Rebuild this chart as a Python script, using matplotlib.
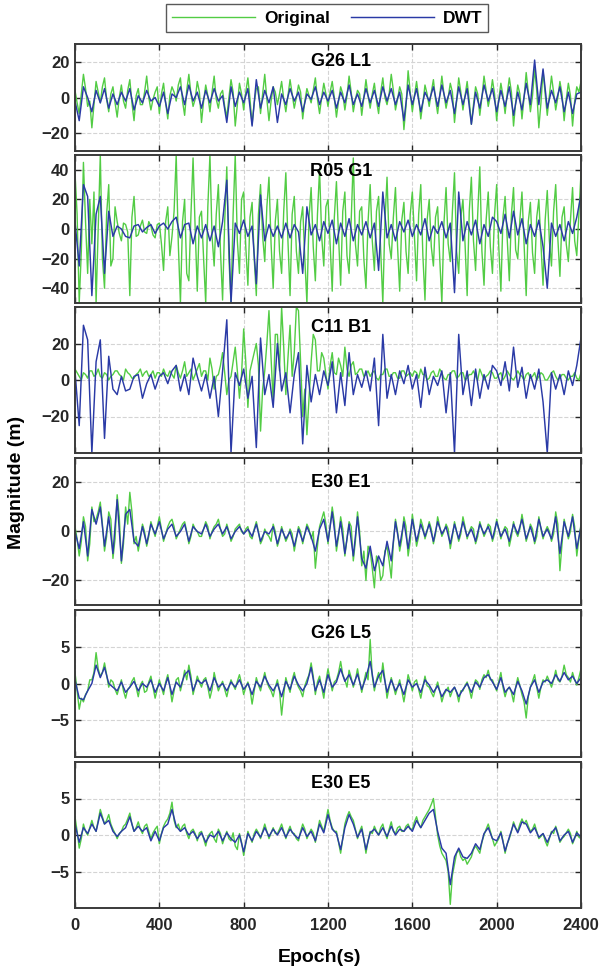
import numpy as np
import matplotlib
matplotlib.use("Agg")
import matplotlib.pyplot as plt

plt.rcParams['font.family'] = ['Liberation Sans', 'DejaVu Sans']
plt.rcParams['font.weight'] = 'bold'

# original series sampled every 10 s, DWT series every 20 s
epochs_orig = np.arange(0, 2401, 10)
epochs_dwt = np.arange(0, 2401, 20)

titles = ["G26 L1", "R05 G1", "C11 B1", "E30 E1", "G26 L5", "E30 E5"]

g26_l1_orig = [4, -3, -9, 2, 13, 5, -5, -2, -17, -4, 9, 3, -3, 6, 11, -1, -8, 2, 6, -3,
               -11, 0, 7, -2, -6, 4, 10, -3, -13, 1, 5, -4, -4, 3, 12, 0, -7, -1, 3, 6,
               -9, 2, 8, -3, -12, 1, 6, 3, -2, 7, 11, -2, -10, 4, 13, 2, -5, -1, 9, 3,
               -14, -2, 7, 1, -8, 3, 12, -1, -6, 2, 4, -5, -11, 0, 10, 3, -16, -4, 8, 2,
               -7, 3, 11, -1, -15, -3, 5, 6, -9, 2, 13, -1, -13, -2, 6, 3, -4, 2, 9, -1,
               -8, 1, 10, 2, -6, 0, 7, 3, -12, -2, 5, 1, -3, 4, 11, -1, -9, 0, 8, 2,
               -5, 3, 9, 0, -11, -2, 6, 2, -7, 1, 12, 3, -8, -1, 4, 2, -10, 0, 10, 1,
               -6, 2, 8, -2, -9, 3, 11, 0, -4, 2, 13, 4, -7, -1, 6, 2, -18, -5, 15, 3,
               -8, 1, 9, 0, -12, -3, 7, 2, -5, 3, 10, -1, -9, 1, 12, 2, -6, 0, 8, 3,
               -14, -2, 11, 3, -7, 1, 9, -2, -15, -4, 6, 2, -10, 0, 12, 4, -5, 1, 10, 2,
               -13, -1, 8, 1, -9, 2, 11, 3, -16, -3, 7, 2, -12, 0, 14, 3, -8, 1, 16, 4,
               -17, -3, 15, 2, -10, 1, 12, 3, -7, 0, 9, 2, -13, -1, 8, 1, -16, -2, 6, 3,
               9]
g26_l1_dwt = [-2, -13, 6, 0, -8, 4, -3, 5, -6, 2,
              -4, 3, -2, 5, -7, 1, -3, 4, -2, 0,
              -5, 3, -9, 2, 0, 6, -4, 7, -2, 3,
              -6, 4, -3, 5, -2, 1, -14, 6, -5, 3,
              -3, 5, -16, 10, -6, 4, -3, 6, -14, 2,
              -4, 5, -2, 3, -8, 2, -1, 6, -4, 3,
              -2, 4, -6, 3, -3, 7, -4, 2, -5, 5,
              -3, 4, -5, 6, -2, 5, -4, 3, -13, 7,
              -4, 5, -8, 3, -2, 6, -5, 7, -3, 4,
              -9, 6, -4, 5, -15, 3, -6, 7, -2, 5,
              -8, 4, -5, 6, -10, 3, -7, 8, -4, 21,
              -4, 16, -6, 4, -3, 6, -8, 3, -9, 2,
              3]

r05_g1_orig = [38, 10, -50, -15, 45, 5, -30, 20, -10, 25, -50, 0, 50, -20, -40, 10, 30, -25, -20, 15,
               5, -3, -8, 4, 3, -2, -45, 8, 22, -5, -4, 2, 6, -2, -3, 5, 2, -4, -6, 3,
               4, -10, -28, 5, 15, -18, -5, 12, 50, -10, -50, 5, 20, -30, -35, 10, 48, 0, -42, 8,
               12, -20, -50, 15, 50, -5, -25, 10, 30, -15, -48, 5, 42, -20, -50, 10, 50, -8, -30, 20,
               25, -12, -38, 8, 18, -20, -45, 10, 30, -5, -22, 15, 35, -10, -40, 5, 20, -15, -30, 12,
               38, -8, -45, 10, 22, -15, -30, 5, 15, -20, -50, 8, 28, -12, -35, 10, 40, -5, -25, 15,
               20, -10, -42, 8, 32, -5, -38, 12, 25, -18, -30, 6, 48, -10, -25, 12, 15, -20, -40, 5,
               30, -8, -28, 12, 22, -15, -50, 5, 35, -10, -20, 8, 28, -12, -42, 6, 18, -15, -30, 10,
               25, -5, -35, 10, 30, -18, -48, 6, 20, -12, -25, 8, 15, -20, -50, 4, 28, -10, -22, 12,
               38, -15, -30, 8, 20, -10, -45, 12, 35, -8, -28, 10, 42, -15, -38, 6, 25, -12, -30, 10,
               30, -12, -42, 8, 22, -6, -35, 10, 28, -14, -20, 6, 25, -10, -45, 5, 18, -16, -30, 8,
               20, -10, -38, 6, 26, -8, -25, 12, 30, -6, -32, 8, 15, -10, -22, 6, 28, -8, -18, 10,
               38]
r05_g1_dwt = [5, -25, 30, 22, -45, 10, 22, -30, 12, -5,
              2, 0, -5, -6, 2, 3, -2, 1, 3, -3,
              2, 4, 0, 5, 8, -6, 3, 4, -10, 2,
              -6, 3, -8, 2, -12, 5, 33, -50, 4, -3,
              6, -5, 2, -37, 23, -8, 3, -5, 2, -6,
              4, -6, 3, -2, -30, 15, -4, 3, -8, 5,
              -3, 6, -10, 4, -5, 7, -8, 3, -4, 5,
              -6, 4, -28, 25, -6, 3, -8, 5, -2, 6,
              -5, 3, -4, 7, -8, 2, -3, 5, -6, 4,
              -43, 25, -8, 5, -4, 6, -10, 3, -5, 8,
              5, -3, 10, -6, 12, -4, 7, -10, 3, -5,
              6, -12, -40, 4, -5, 3, -8, 5, -3, 8,
              23]

c11_b1_orig = [6, 4, 2, 0, 4, 3, 1, 5, 5, 2, 3, 6, 2, 1, 4, 3, 0, 2, 3, 5,
               5, 3, 2, 0, 6, 4, 3, 1, 1, 3, 4, 6, 2, 4, 5, 2, 3, 5, 1, 4,
               4, 2, 6, 3, 2, 5, 3, 1, 8, 4, 1, 5, 10, 2, 4, 6, 0, 3, 6, 9,
               2, 5, 5, 0, 12, 6, -5, 2, 3, 8, 15, 4, -8, 0, 2, 10, 18, 5, -10, 3,
               28, 10, -15, 5, 10, 15, 20, 8, -28, -5, 5, 20, 38, 12, -12, 25, 25, 5, 40, 18,
               -8, 12, 30, 2, 15, 40, 38, 10, -20, -5, -30, -10, 10, 25, 22, 5, 5, 15, 12, 3,
               -5, 8, 15, 4, 3, 12, 8, 2, 18, 6, 2, 8, 10, 3, 4, 6, 6, 2, 3, 5,
               2, 4, 5, 1, 0, 3, 3, 6, 6, 2, 2, 4, 4, 1, 1, 5, 5, 2, 3, 4,
               2, 5, 4, 1, 6, 3, 3, 0, 1, 4, 5, 2, 2, 6, 4, 1, 0, 3, 3, 5,
               5, 1, 2, 4, 4, 0, 1, 3, 3, 5, 2, 0, 6, 3, 0, 2, 3, 5, 4, 1,
               1, 3, 4, 0, 2, 5, 3, 1, 0, 2, 5, 3, 2, 0, 3, 4, 1, 2, 4, 0,
               2, 4, 3, 0, 0, 2, 4, 5, 2, 0, 1, 3, 3, 1, 0, 2, 2, 4, 1, 0,
               4]
c11_b1_dwt = [5, -25, 30, 22, -40, 10, 22, -32, 13, -5,
              -8, 2, -6, -5, 2, 3, -10, -2, 3, -5,
              2, 4, -2, 5, 8, -6, 3, -8, 12, 2,
              -6, 3, -10, 2, -20, 5, 33, -40, 4, -3,
              6, -10, 2, -37, 23, -8, 3, -15, 20, -6,
              4, -18, 3, 15, -35, 8, -12, 3, -8, 5,
              -3, 10, -18, 4, -14, 15, -8, 3, -4, 5,
              -6, 12, -25, 25, -10, 3, -8, 5, -2, 8,
              -5, 3, -15, 7, -8, 2, -3, 5, -18, 4,
              -40, 25, -8, 5, -14, 6, -10, 3, -5, 8,
              5, -3, 10, -6, 18, -4, 7, -10, 3, -5,
              6, -12, -40, 4, -5, 3, -8, 5, -3, 8,
              23]

e30_e1_orig = [2, -3, -10, -4, 6, 2, -12, -5, 10, 4, 5, 8, 12, 3, -8, -2, 8, 5, -11, -3,
               15, 6, -13, -5, 10, 3, 16, 8, -5, -2, -8, -3, 3, 0, -6, -2, 4, 1, -2, 2,
               6, 1, -4, -1, 2, 4, 5, 2, -3, -1, 1, 3, 4, 0, -5, -2, 3, 1, 0, -2,
               -2, 1, 4, 2, -3, 0, 2, 3, 5, 1, -2, -1, 3, 0, -4, -2, 1, 2, 3, 0,
               -1, 1, 2, -2, -3, 1, 4, 0, -5, -3, 1, -1, -2, -4, 3, 0, -6, -3, 2, -1,
               -4, -2, 1, -1, -8, -3, 2, 0, -5, -1, 3, 1, -3, 0, -15, -6, 2, 5, 8, 3,
               -5, 2, 10, 4, -8, -2, 6, 1, -10, -3, 4, 2, -12, -4, 8, 0, -14, -8, -20, -6,
               -8, -15, -23, -10, -12, -20, -18, -8, -6, -12, -19, -5, 5, 0, -8, -3, 6, 2, -10, -4,
               7, 1, -6, -2, 5, 2, -3, 0, 4, 1, -5, -1, 6, 2, -2, 0, 3, 1, -7, -2,
               4, 0, -4, -1, 6, 2, -3, 0, 2, 1, -5, -2, 4, 1, -2, 0, 3, 2, -4, -1,
               5, 1, -3, 0, 2, 1, -6, -2, 4, 0, -2, 1, 7, 2, -4, -1, 3, 1, -5, -2,
               6, 1, -3, 0, 2, 0, -4, -1, 8, 3, -16, -5, 5, 1, -3, 0, 7, 2, -10, -3,
               3]
e30_e1_dwt = [0, -7, 4, -10, 9, 3, 10, -6, 6, -9,
              13, -12, 7, 9, -4, -6, 2, -5, 3, -1,
              4, -3, 1, 3, -2, 0, 3, -4, 2, 0,
              -1, 3, -2, 1, 3, -1, 2, -3, 0, 2,
              -1, 1, -2, 3, -4, 0, -1, 2, -5, 1,
              -3, 0, -6, 1, -4, 2, -2, -8, 1, 5,
              -4, 8, -6, 4, -9, 3, -10, 6, -11, -15,
              -6, -16, -10, -14, -4, -12, 4, -6, 4, -7,
              5, -4, 3, -2, 3, -4, 4, -1, 2, -5,
              3, -3, 4, -2, 1, -4, 3, -1, 2, -3,
              4, -2, 1, -4, 3, -1, 5, -3, 2, -4,
              5, -2, 1, -3, 6, -9, 4, -2, 6, -7,
              2]

g26_l5_orig = [1.5, -1, -3.5, -2, -2.5, -1.5, -1, 0.5, 0.5, 1.5, 4.2, 2, 1, 1.5, 2.8, 1.2, -0.5, 0.5, 0.2, -0.8,
               -1.5, -0.5, 0.5, -1, -2, -0.8, -0.5, 0.3, 0.8, -0.5, -1.8, -0.2, 0.3, -1.2, -1, 0.2, 1, -0.5, -2, -0.8,
               0.5, -0.5, -1.5, 0.2, 1.2, -0.5, -2.5, -1, 0.5, 0.8, -1, 0.2, 1.8, 0.5, 2.5, 1, -1.5, -0.3, 1, 0.2,
               -0.5, 0.5, 0.8, -0.5, -2, -0.8, 1.5, 0.2, -1, -0.3, 0.3, -0.8, -1.8, -0.5, 0.5, -0.2, -0.8, 0.3, 1.2, 0,
               -1.5, -0.5, 0.2, -0.8, -2.8, -1, 0.8, -0.2, -1, 0.3, 1.5, 0.2, -0.5, -1, -1.8, -0.5, 0.5, -1, -4.3, -1.5,
               0.8, -0.3, -1.2, 0.5, 1.5, 0.2, -0.5, -1, -1.8, -0.3, 0.5, 1.2, 2.8, 1, -1.5, 0.2, 1, -0.5, -2, 0.3,
               2, 0.5, -1, 0.2, 0.5, 1.5, 3, 1.2, 0.5, -0.5, 1.8, 0.8, -0.5, 0.5, 2, 0.3, -1.2, 0.2, 1.5, 0.5,
               6, 1, -1, 0.5, 1.5, 0.2, 2.8, 0.5, -2, -0.5, 0.8, -0.3, -1.5, -0.5, 0.5, -1, -2.5, -0.8, 1.2, 0.2,
               -1, 0.2, 0.5, -0.8, -2, -0.5, 1, -0.3, -0.5, -1.2, -1.8, -0.8, 0.2, -1, -2.5, -1.5, -1, -0.5, -1.8, -1,
               -0.5, -1.2, -2.5, -1, -1, -0.3, 0.2, -0.8, -2, -0.5, 0.5, 0.2, -0.8, 0.5, 1.2, 0.8, 1.8, 0.5, 0.5, -0.3,
               -1, 0.3, 1.5, -0.5, -1.8, -0.8, -0.5, -1.2, -2.5, -0.5, 0.8, -0.3, -1.5, -2.5, -4.7, -1.8, -0.5, 0.3, 1.2, -0.5,
               -2, -0.5, 0.5, 0.2, 1, 0.3, -0.5, 0.5, 1.8, 0.5, 0.2, 1, 2.5, 1.2, 0.8, 0.2, 1.5, 0.5, -0.2, 0.8,
               2]
g26_l5_dwt = [0.5, -2, -2.2, -1, 0, 2.5, 0.8, 2.2, 0, -0.5,
              -1, 0.2, -1.2, -0.5, 0.3, -1, 0, -0.5, 0.5, -1.2,
              0, -1, 0.8, -1.5, 0.2, -0.5, 1.2, 1.8, -1, 0.5,
              0, 0.5, -1, 0.8, -0.5, 0, -1, 0.2, -0.5, 0.5,
              -0.8, 0, -1.5, 0.3, -0.5, 1, -0.2, -1, 0, -1.8,
              0.3, -0.8, 1, -0.2, -1, 0, 2.2, -1, 0.5, -1.2,
              1.2, -0.5, 0.2, 2, 0.3, 1.2, -0.2, 1.3, -0.8, 0.8,
              3, -0.5, 1, 1.8, -1.2, 0.5, -1, 0, -1.5, 0.5,
              -0.5, 0, -1.2, 0.5, -0.2, -1.2, -0.3, -1.8, -0.8, -1.2,
              -0.5, -1.8, -0.8, 0, -1.2, 0.2, -0.5, 0.8, 1.2, 0.2,
              -0.8, 0.8, -1.2, -0.5, -1.5, 0.3, -1, -2.8, -0.5, 0.5,
              -1.2, 0.2, 0.5, 0, 1.2, 0.3, 1.5, 0.5, 1, 0,
              0.8]

e30_e5_orig = [2.5, 0.5, -1.8, -0.5, 1.5, 0.5, 0, 1, 2, 1, 0.5, 2, 3.5, 2.5, 1.5, 2, 2.8, 1.5, 0.8, 0.2,
               -0.5, 0.2, 0.5, 1.2, 1.5, 2.2, 3, 1.5, 0.5, 1, 1.8, 0.8, 0.2, 1.2, 1.5, 0.5, -0.5, 0.3, 0.8, 1.2,
               -1.2, 0.2, 1.2, 1.8, 2.2, 3, 4.5, 2, 1, 1.5, 0.5, 1.2, 1.5, 0.2, -0.5, 0.5, 0.8, 0.2, -0.8, 0.3,
               0.5, -0.5, -1.5, -0.2, 0.2, 0.5, -0.5, -1, 0.8, 0.2, -1.2, -0.3, 0.5, -0.5, -0.8, 0.3, -1.5, -2, 0.2, -1,
               -2.8, -1.2, 0.5, -0.3, -1, 0.2, 0.8, 0.3, -0.5, 0.5, 1.5, 0.5, -0.5, 0.3, 1, 0.2, 0.2, 0.8, 1.5, 0.5,
               -0.5, 0.5, 1.2, 0.3, 0.2, -0.5, -0.8, 0.5, 1.5, 0.8, -0.5, 0.2, 0.8, 0.3, -1, 0.5, 2, 1.2, 0.5, 2,
               3.5, 2, 1, 0.5, 0.5, -1, -2.5, -0.5, 1.5, 2.5, 3.2, 2.5, 2, 0.8, -0.5, 0.5, 1.2, -0.5, -2.5, -0.8,
               0.5, 0.2, 1.2, 0.5, 0, 1, 1.5, 0.3, -0.5, 0.8, 1.8, 0.5, 0.2, 1, 1.2, 0.5, 0.5, 1.2, 1.5, 0.8,
               0.8, 1.8, 2.5, 1.5, 1, 2, 2.5, 3, 3.5, 4.2, 5, 2.5, 0, -1.5, -2.5, -3, -3.5, -5, -9.5, -5.5,
               -4, -2.5, -2, -3, -3.5, -3.2, -4, -3.5, -3, -2, -1.5, -2, -2.5, -1, 0, 0.8, 1.5, 0.5, -0.5, -1.5,
               -1, -0.5, 0.5, -0.8, -2.5, -1.2, -0.5, 0.5, 1.8, 1, 0.5, 1.5, 2.2, 1.5, 2, 1.2, 0.5, 0.8, 1.5, 0.5,
               -0.5, -0.2, 0.2, -0.8, -1.5, -0.5, 0.5, 0.2, 1.2, 0.3, -1, -0.5, -0.2, 0.3, 0.8, 0.2, -1.2, -0.5, 0.5, -0.3,
               -0.5]
e30_e5_dwt = [1.5, -1, 1, 0.2, 1.5, 0.5, 3, 1.5, 2, 0.5,
              -0.2, 0.5, 1, 2.5, 0.5, 1.2, 0.5, 1, -0.8, 0.5,
              -0.8, 1, 1.5, 3.5, 1.2, 0.5, 1, 0, 0.5, -0.5,
              0.3, -1, 0, -0.3, 0.5, -0.8, 0.3, -0.5, -1, 0,
              -2.3, 0.2, -0.8, 0.5, -0.3, 1, -0.2, 0.8, 0, 1,
              -0.3, 0.8, 0, -0.5, 1, -0.2, 0.5, -0.8, 1.5, 0.3,
              2.8, 0.8, 0.2, -2, 1, 2.8, 1.5, -0.3, 0.8, -2,
              0.3, 0.8, 0, 1, -0.2, 1.2, 0, 0.8, 0.5, 1.2,
              0.5, 2, 1, 2, 3, 3.5, 0.5, -1.8, -2.5, -6.8,
              -3, -1.8, -3, -3.2, -2.5, -1.2, -2, 0.2, 1, -0.5,
              -0.8, 0.3, -2.2, -0.3, 1.5, 0.3, 1.8, 1.5, 0.3, 1,
              -0.3, 0.2, -1, 0.3, 1, -0.8, 0, 0.5, -1, 0.3,
              -0.3]

originals = [g26_l1_orig, r05_g1_orig, c11_b1_orig, e30_e1_orig, g26_l5_orig, e30_e5_orig]
dwts = [g26_l1_dwt, r05_g1_dwt, c11_b1_dwt, e30_e1_dwt, g26_l5_dwt, e30_e5_dwt]
ylims = [(-30, 30), (-50, 50), (-40, 40), (-30, 30), (-10, 10), (-10, 10)]
yticks = [[-20, 0, 20], [-40, -20, 0, 20, 40], [-20, 0, 20], [-20, 0, 20], [-5, 0, 5], [-5, 0, 5]]

# panel top/bottom in pixels
tops = [44, 155, 307, 458, 610, 762]
bots = [151, 303, 453, 605, 757, 908]
title_y = [62, 171, 327, 483, 633, 784]

W, H = 606, 976
fig = plt.figure(figsize=(W / 100, H / 100), dpi=100)

green = '#52cc44'
blue = '#2a3aa6'

for i in range(6):
    ax = fig.add_axes([75 / W, 1 - bots[i] / H, 506 / W, (bots[i] - tops[i]) / H])
    l1, = ax.plot(epochs_orig, originals[i], color=green, lw=1.0)
    l2, = ax.plot(epochs_dwt, dwts[i], color=blue, lw=1.05)
    ax.set_xlim(0, 2400)
    ax.set_ylim(*ylims[i])
    ax.set_yticks(yticks[i])
    ax.set_xticks(range(0, 2401, 400))
    ax.grid(True, ls='--', color='#d4d4d4', lw=0.8)
    ax.tick_params(direction='in', top=True, right=True, length=4, width=1,
                   labelsize=12, pad=4, colors='#262626')
    for lab in ax.get_yticklabels() + ax.get_xticklabels():
        lab.set_fontweight('bold')
    for sp in ax.spines.values():
        sp.set_linewidth(1.4)
        sp.set_color('#3a3a3a')
    if i < 5:
        ax.tick_params(labelbottom=False)
    else:
        ax.tick_params(axis='x', pad=7)
    yt = 1 - (title_y[i] - tops[i]) / (bots[i] - tops[i])
    ax.text(0.525, yt, titles[i], transform=ax.transAxes, ha='center', va='center',
            fontsize=13, fontweight='bold')

fig.legend([l1, l2], ["Original", "DWT"], loc='center', bbox_to_anchor=(327 / W, 1 - 18 / H),
           ncol=2, handlelength=4.8, columnspacing=1.2, frameon=True,
           fancybox=False, edgecolor='#303030', borderpad=0.35, handletextpad=0.5,
           prop={'weight': 'bold', 'size': 12.5})
fig.text(17 / W, 1 - 482 / H, "Magnitude (m)", rotation=90, ha='center', va='center',
         fontsize=14, fontweight='bold')
fig.text(320 / W, 1 - 958 / H, "Epoch(s)", ha='center', va='center',
         fontsize=14, fontweight='bold')

fig.savefig("out.png", dpi=100)
